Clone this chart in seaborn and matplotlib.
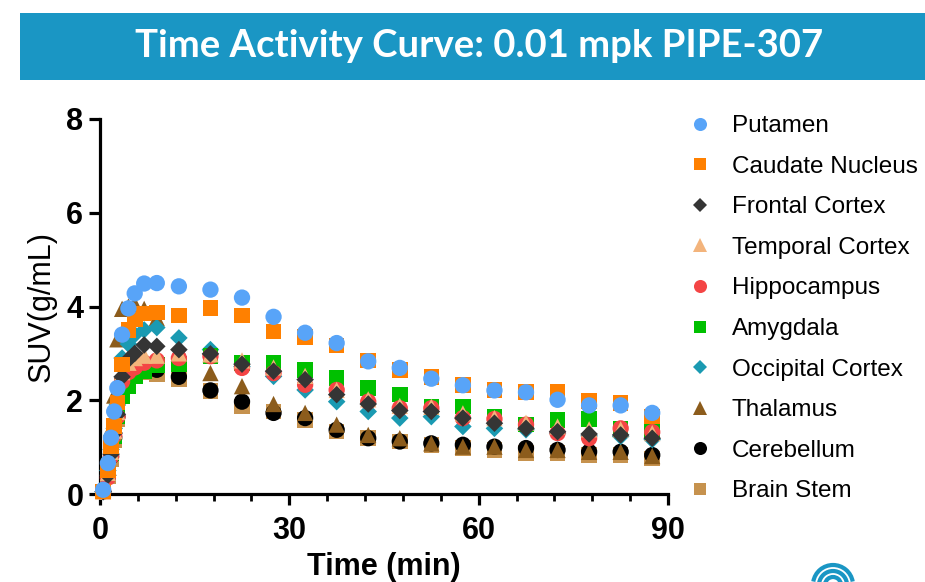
import numpy as np
import pandas as pd
import matplotlib
matplotlib.use("Agg")
import matplotlib.pyplot as plt
from matplotlib.patches import Rectangle, Arc
import seaborn as sns

# ---------------- data ----------------
time_min = [0.5, 1.25, 1.75, 2.25, 2.75, 3.5, 4.5, 5.5, 7, 9, 12.5, 17.5, 22.5, 27.5,
            32.5, 37.5, 42.5, 47.5, 52.5, 57.5, 62.5, 67.5, 72.5, 77.5, 82.5, 87.5]

putamen = [0.09, 0.66, 1.20, 1.76, 2.26, 3.40, 3.96, 4.28, 4.49, 4.50, 4.43, 4.36, 4.19, 3.78,
           3.44, 3.22, 2.83, 2.69, 2.46, 2.32, 2.21, 2.17, 2.01, 1.89, 1.89, 1.73]
caudate = [0.05, 0.51, 1.01, 1.45, 1.95, 2.76, 3.50, 3.72, 3.85, 3.87, 3.81, 3.97, 3.81, 3.47,
           3.35, 3.17, 2.85, 2.65, 2.50, 2.32, 2.22, 2.17, 2.17, 1.99, 1.94, 1.65]
frontal = [0.05, 0.40, 0.85, 1.30, 1.70, 2.50, 2.87, 3.00, 3.18, 3.15, 3.08, 2.99, 2.77, 2.62,
           2.44, 2.12, 1.92, 1.78, 1.76, 1.62, 1.51, 1.40, 1.33, 1.28, 1.26, 1.19]
temporal = [0.05, 0.45, 0.90, 1.35, 1.75, 2.60, 2.80, 2.90, 2.95, 2.95, 3.00, 2.98, 2.85, 2.70,
            2.52, 2.22, 2.02, 1.88, 1.86, 1.72, 1.62, 1.52, 1.44, 1.38, 1.38, 1.30]
hippocampus = [0.05, 0.35, 0.80, 1.25, 1.65, 2.40, 2.60, 2.70, 2.80, 2.85, 2.90, 2.94, 2.69, 2.58,
               2.33, 2.22, 1.97, 1.83, 1.83, 1.62, 1.60, 1.48, 1.30, 1.19, 1.40, 1.32]
amygdala = [0.05, 0.45, 0.88, 1.23, 1.65, 2.08, 2.30, 2.51, 2.62, 2.75, 2.77, 2.95, 2.80, 2.80,
            2.65, 2.47, 2.26, 2.12, 1.87, 1.87, 1.65, 1.48, 1.58, 1.60, 1.38, 1.37]
occipital = [0.05, 0.50, 0.95, 1.40, 1.90, 2.90, 3.20, 3.40, 3.50, 3.55, 3.33, 3.08, 2.72, 2.51,
             2.22, 1.97, 1.76, 1.62, 1.65, 1.44, 1.40, 1.37, 1.30, 1.24, 1.23, 1.16]
thalamus = [0.10, 0.70, 1.40, 2.10, 3.30, 3.95, 4.00, 4.05, 3.95, 3.75, 3.00, 2.58, 2.30, 1.92,
            1.73, 1.48, 1.26, 1.19, 1.08, 1.01, 1.01, 0.94, 0.94, 0.90, 0.90, 0.81]
cerebellum = [0.05, 0.40, 0.80, 1.20, 1.65, 2.40, 2.60, 2.70, 2.70, 2.65, 2.50, 2.21, 1.97, 1.73,
              1.62, 1.37, 1.19, 1.12, 1.08, 1.05, 1.01, 0.98, 0.94, 0.90, 0.90, 0.83]
brain_stem = [0.05, 0.38, 0.75, 1.15, 1.60, 2.30, 2.50, 2.60, 2.60, 2.55, 2.45, 2.20, 1.87, 1.76,
              1.58, 1.33, 1.19, 1.12, 1.05, 0.98, 0.94, 0.87, 0.87, 0.83, 0.83, 0.76]

regions = ["Putamen", "Caudate Nucleus", "Frontal Cortex", "Temporal Cortex", "Hippocampus",
           "Amygdala", "Occipital Cortex", "Thalamus", "Cerebellum", "Brain Stem"]
series = [putamen, caudate, frontal, temporal, hippocampus, amygdala, occipital,
          thalamus, cerebellum, brain_stem]

x_ticks = [0, 30, 60, 90]
y_ticks = [0, 2, 4, 6, 8]
title = "Time Activity Curve: 0.01 mpk PIPE-307"

# ---------------- styling ----------------
colors = {"Putamen": "#58A4F8", "Caudate Nucleus": "#FF8000", "Frontal Cortex": "#353535",
          "Temporal Cortex": "#F3B47C", "Hippocampus": "#F44545", "Amygdala": "#00C000",
          "Occipital Cortex": "#1A9AB2", "Thalamus": "#8C5C1C", "Cerebellum": "#000000",
          "Brain Stem": "#C6924E"}
markers = {"Putamen": "o", "Caudate Nucleus": "s", "Frontal Cortex": "D", "Temporal Cortex": "^",
           "Hippocampus": "o", "Amygdala": "s", "Occipital Cortex": "D", "Thalamus": "^",
           "Cerebellum": "o", "Brain Stem": "s"}
base = 138
size_factor = {"o": 1.0, "s": 0.92, "D": 0.58, "^": 1.0}
sizes = {r: base * size_factor[markers[r]] for r in regions}

# long-form frame, drawn bottom-to-top in reverse legend order
frames = []
for r, v in zip(regions[::-1], series[::-1]):
    frames.append(pd.DataFrame({"Time": time_min, "SUV": v, "Region": r}))
df = pd.concat(frames, ignore_index=True)

sns.set_theme(style="ticks")
plt.rcParams["font.family"] = ["Liberation Sans", "DejaVu Sans"]
plt.rcParams["text.color"] = "black"
plt.rcParams["axes.labelcolor"] = "black"
plt.rcParams["xtick.color"] = "black"
plt.rcParams["ytick.color"] = "black"

fig = plt.figure(figsize=(9.25, 5.82), dpi=100)
W, H = 925, 582
ax = fig.add_axes([100 / W, 1 - 494 / H, 568 / W, 375 / H])

sns.scatterplot(data=df, x="Time", y="SUV", hue="Region", style="Region", size="Region",
                hue_order=regions, style_order=regions, size_order=regions,
                palette=colors, markers=markers, sizes=sizes,
                linewidth=0, edgecolor="none", ax=ax, clip_on=False, zorder=3)

ax.set_xlim(0, 90)
ax.set_ylim(0, 8)
ax.set_xticks(x_ticks)
ax.set_yticks(y_ticks)
ax.set_xticks(np.arange(0, 91, 6), minor=True)
for s in ["top", "right"]:
    ax.spines[s].set_visible(False)
for s in ["left", "bottom"]:
    ax.spines[s].set_linewidth(2.3)
    ax.spines[s].set_color("black")
ax.tick_params(axis="both", which="major", length=8, width=2.3, labelsize=22, pad=4,
               color="black", labelcolor="black")
ax.tick_params(axis="x", which="minor", length=5, width=2.0, color="black")
ax.tick_params(axis="x", which="major", pad=8)
for lab in ax.get_xticklabels() + ax.get_yticklabels():
    lab.set_fontweight("bold")

ax.set_xlabel("Time (min)", fontsize=22, fontweight="bold", labelpad=4, color="black")
ax.set_ylabel("SUV(g/mL)", fontsize=22, labelpad=7, color="black")

# legend
handles, labels = ax.get_legend_handles_labels()
hl = [(h, l) for h, l in zip(handles, labels) if l in regions]
if ax.get_legend() is not None:
    ax.get_legend().remove()
leg = fig.legend([h for h, _ in hl], [l for _, l in hl], loc="upper left",
                 bbox_to_anchor=(688 / W, 1 - 115 / H), frameon=False, fontsize=17.5,
                 markerscale=0.8, handletextpad=0.8, labelspacing=0.765, handlelength=1.0,
                 borderaxespad=0, borderpad=0)
for t in leg.get_texts():
    t.set_color("black")

# title banner
fig.patches.append(Rectangle((20 / W, 1 - 80 / H), 905 / W, 67 / H, transform=fig.transFigure,
                             facecolor="#1A96C4", edgecolor="none", zorder=0))
fig.text(479 / W, 1 - 46 / H, title, ha="center", va="center", color="white",
         fontsize=27.5, fontweight="bold", family=["Lato", "DejaVu Sans"])

# small logo at bottom right (partially cut off)
lax = fig.add_axes([800 / W, 0, 70 / W, 20 / H])
lax.set_xlim(0, 70)
lax.set_ylim(0, 20)
lax.axis("off")
for r_, lw in [(8, 3), (14, 3), (20, 3)]:
    lax.add_patch(Arc((33, -3), 2 * r_, 2 * r_, theta1=10, theta2=170, color="#1A96C4",
                      linewidth=lw))

fig.savefig("out.png", dpi=100, facecolor="white")
